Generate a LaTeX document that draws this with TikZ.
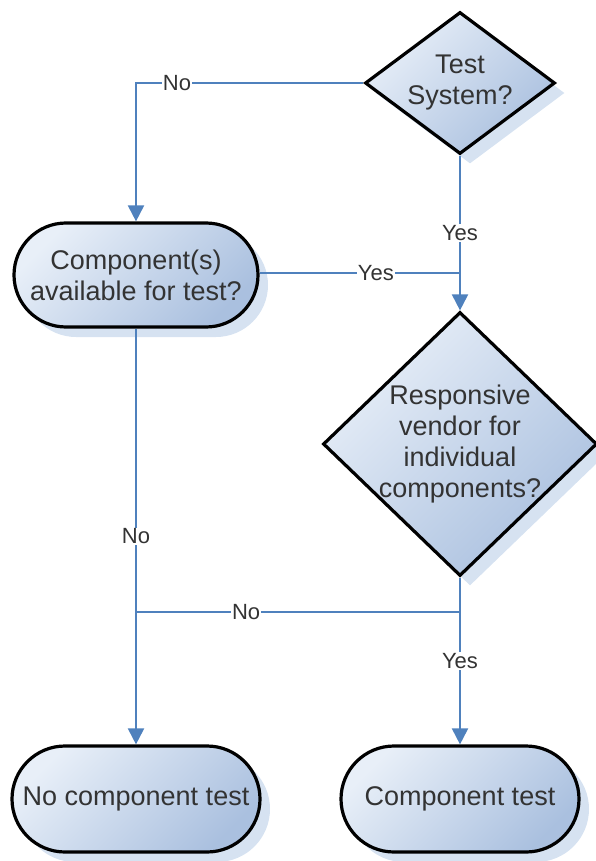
\documentclass[tikz,border=0pt]{standalone}
\usepackage{fontspec}
\setmainfont{Liberation Sans}
\usetikzlibrary{shapes.geometric,shapes.misc,shadows,arrows.meta}

\definecolor{flowlight}{RGB}{232,239,248}
\definecolor{flowdark}{RGB}{170,192,223}
\definecolor{flowshadow}{RGB}{214,226,241}
\definecolor{flowline}{RGB}{79,129,189}

\tikzset{
  flowbox/.style={draw=black, line width=3.2pt, text=black!80, align=center,
    font=\fontsize{27}{31}\selectfont,
    top color=flowlight, bottom color=flowdark, shading angle=45,
    drop shadow={shadow xshift=10pt, shadow yshift=-10pt, fill=flowshadow, opacity=1}},
  stadium/.style={flowbox, rounded rectangle, inner sep=0pt},
  decision/.style={flowbox, diamond, inner sep=-15pt},
  link/.style={draw=flowline, line width=2pt, -{Triangle[width=16pt,length=16pt]}},
  joinline/.style={draw=flowline, line width=2pt},
  lbl/.style={fill=white, inner sep=1pt, text=black!80, font=\fontsize{22}{25}\selectfont}
}

\begin{document}
\begin{tikzpicture}[x=1pt, y=-1pt]
  \useasboundingbox (0,0) rectangle (595,861);

  \node[decision, minimum width=190pt, minimum height=142pt] (sys) at (460,83) {Test\\System?};
  \node[stadium, minimum width=244pt, minimum height=104pt] (comp) at (136,275) {Component(s)\\available for test?};
  \node[decision, minimum width=274pt, minimum height=264pt] (vend) at (460,444) {Responsive\\vendor for\\individual\\components?};
  \node[stadium, minimum width=248pt, minimum height=106pt] (nocomp) at (136,799) {No component test};
  \node[stadium, minimum width=238pt, minimum height=106pt] (comptest) at (460,799) {Component test};

  \coordinate (yesjoin) at (460,273);
  \coordinate (nojoinr) at (460,612);
  \coordinate (nojoinl) at (136,612);

  \draw[link] (sys.west) -| node[lbl, pos=0.41] {No} (comp.north);
  \draw[link] (sys.south) -- node[lbl, pos=0.5] {Yes} (vend.north);
  \draw[joinline] (comp.east |- yesjoin) -- node[lbl, pos=0.58] {Yes} (yesjoin);
  \draw[link] (comp.south) -- node[lbl, pos=0.5] {No} (nocomp.north);
  \draw[link] (vend.south) -- node[lbl, pos=0.5] {Yes} (comptest.north);
  \draw[joinline] (nojoinr) -- node[lbl, pos=0.66] {No} (nojoinl);
\end{tikzpicture}
\end{document}
